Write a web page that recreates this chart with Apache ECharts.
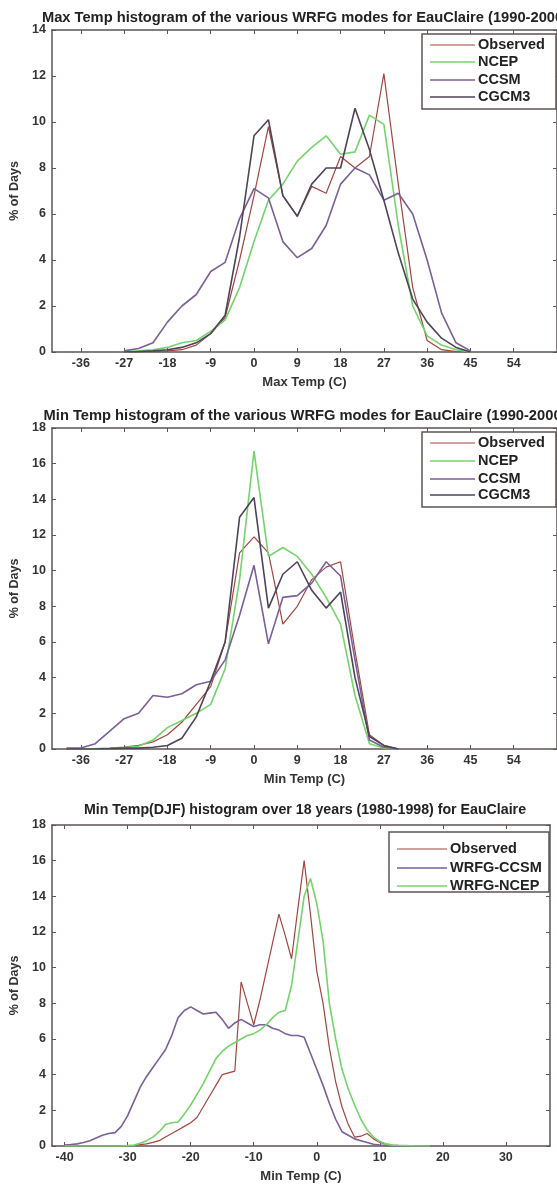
<!DOCTYPE html>
<html><head><meta charset="utf-8">
<script src="https://cdn.jsdelivr.net/npm/echarts@6/dist/echarts.min.js"></script>
<style>html,body{margin:0;padding:0;background:#fff}#c{width:557px;height:1184px}</style>
</head><body><div id="c"></div>
<script>
const titles = [
  "Max Temp histogram of the various WRFG modes for EauClaire (1990-2000)",
  "Min Temp histogram of the various WRFG modes for EauClaire (1990-2000)",
  "Min Temp(DJF) histogram over 18 years (1980-1998) for EauClaire"
];
const xNames = ["Max Temp (C)", "Min Temp (C)", "Min Temp (C)"];
const yName = "% of Days";
const xTicks12 = [-36,-27,-18,-9,0,9,18,27,36,45,54];
const xTicks3 = [-40,-30,-20,-10,0,10,20,30];

// ---------- Chart 1: Max Temp ----------
const temps1 = [-27,-24,-21,-18,-15,-12,-9,-6,-3,0,3,6,9,12,15,18,21,24,27,30,33,36,39,42,45];
const obs1  = [0,0,0.02,0.05,0.1,0.3,0.8,1.5,4.0,6.8,9.8,6.8,5.9,7.2,6.9,8.5,8.0,8.5,12.1,7.3,2.8,0.5,0.1,0.02,0];
const ncep1 = [0,0.05,0.1,0.2,0.4,0.5,0.9,1.4,2.8,4.8,6.6,7.3,8.3,8.9,9.4,8.6,8.7,10.3,9.9,5.5,2.0,0.7,0.3,0.1,0];
const ccsm1 = [0.05,0.15,0.4,1.3,2.0,2.5,3.5,3.9,5.8,7.1,6.7,4.8,4.1,4.5,5.5,7.3,8.0,7.7,6.6,6.9,6.0,4.0,1.7,0.4,0.05];
const cgcm1 = [0,0.02,0.05,0.1,0.2,0.4,0.8,1.6,5.0,9.4,10.1,6.8,5.9,7.3,8.0,8.0,10.6,8.8,6.6,4.3,2.3,1.3,0.6,0.2,0];

// ---------- Chart 2: Min Temp ----------
const temps2 = [-39,-36,-33,-30,-27,-24,-21,-18,-15,-12,-9,-6,-3,0,3,6,9,12,15,18,21,24,27,30];
const obs2  = [0,0,0.02,0.05,0.1,0.2,0.4,0.8,1.5,2.5,3.5,6.0,11.0,11.9,11.0,7.0,8.0,9.5,10.2,10.5,5.5,0.8,0.2,0];
const ncep2 = [0,0,0,0.03,0.08,0.15,0.5,1.2,1.6,2.0,2.5,4.5,9.5,16.7,10.8,11.3,10.8,9.8,8.5,7.0,3.0,0.3,0.05,0];
const ccsm2 = [0.05,0.05,0.3,1.0,1.7,2.0,3.0,2.9,3.1,3.6,3.8,5.0,7.5,10.3,5.9,8.5,8.6,9.3,10.5,9.7,5.0,0.5,0.1,0];
const cgcm2 = [0,0,0,0.02,0.05,0.05,0.1,0.2,0.6,1.8,3.8,6.0,13.0,14.1,7.9,9.8,10.5,8.9,7.9,8.8,4.0,0.7,0.2,0];

// ---------- Chart 3: Min Temp DJF ----------
const temps3 = [-40,-39,-38,-37,-36,-35,-34,-33,-32,-31,-30,-29,-28,-27,-26,-25,-24,-23,-22,-21,-20,-19,-18,-17,-16,-15,-14,-13,-12,-11,-10,-9,-8,-7,-6,-5,-4,-3,-2,-1,0,1,2,3,4,5,6,7,8,9,10,11,12,13,14,15,16,17,18];
const obs3  = [0,0,0,0,0,0,0,0,0,0,0,0.03,0.08,0.12,0.2,0.3,0.5,0.7,0.9,1.1,1.3,1.6,2.2,2.8,3.4,4.0,4.1,4.2,9.2,8.0,6.8,8.2,9.8,11.4,13.0,11.8,10.5,13.3,16.0,13.0,9.8,8.0,5.5,3.6,2.2,1.2,0.5,0.55,0.7,0.4,0.2,0.1,0.05,0.03,0.02,0.01,0,0,0];
const ccsm3 = [0.05,0.08,0.12,0.2,0.3,0.45,0.6,0.7,0.75,1.1,1.7,2.5,3.3,3.9,4.4,4.9,5.4,6.2,7.2,7.6,7.8,7.6,7.4,7.45,7.5,7.1,6.6,6.9,7.1,6.9,6.7,6.8,6.8,6.6,6.5,6.3,6.2,6.2,6.1,5.2,4.3,3.4,2.4,1.5,0.8,0.6,0.4,0.3,0.2,0.1,0.06,0.03,0,0,0,0,0,0,0];
const ncep3 = [0,0,0,0,0,0,0,0,0,0,0.02,0.05,0.15,0.3,0.5,0.8,1.2,1.3,1.35,1.8,2.3,2.9,3.5,4.2,4.9,5.3,5.6,5.8,6.0,6.2,6.3,6.5,6.8,7.2,7.5,7.6,9.0,11.5,14.0,15.0,13.6,11.5,8.0,6.0,4.3,3.2,2.3,1.5,0.9,0.5,0.25,0.12,0.05,0.03,0.02,0.01,0,0,0];

const C_OBS = '#a2463f', C_NCEP = '#74d46c', C_CCSM = '#7b5f98', C_CGCM = '#4e4358';
const AX = '#5d5454';
const FONT = 'Liberation Sans';

const grids = [
  {left: 52, top: 30, width: 506, height: 322},
  {left: 52, top: 428, width: 506, height: 321},
  {left: 52, top: 825, width: 498, height: 322}
];
const xr = [[-42,63],[-42,63],[-42,37]];
const xticks = [xTicks12, xTicks12, xTicks3];
const ymax = [14,18,18];

function pairs(xs, ys){ return xs.map((x,i)=>[x, ys[i]]); }

const xAxis = [], yAxis = [], series = [], title = [], graphic = [];
for (let g=0; g<3; g++){
  const common = {gridIndex: g, type:'value', min: xr[g][0], max: xr[g][1],
    axisLine:{show:true, onZero:false, lineStyle:{color:AX, width:1.5}}, splitLine:{show:false}};
  xAxis.push(Object.assign({}, common, {position:'bottom',
    name: xNames[g], nameLocation:'middle', nameGap: 24,
    nameTextStyle:{color:'#333', fontFamily:FONT, fontWeight:'bold', fontSize:13},
    axisTick:{show:true, inside:true, length:4, lineStyle:{color:AX}, customValues: xticks[g]},
    axisLabel:{color:'#333', fontFamily:FONT, fontWeight:'bold', fontSize:12.5, margin:5, customValues: xticks[g]}}));
  xAxis.push(Object.assign({}, common, {position:'top',
    axisTick:{show:true, inside:true, length:4, lineStyle:{color:AX}, customValues: xticks[g]},
    axisLabel:{show:false}}));
  const yc = {gridIndex:g, type:'value', min:0, max:ymax[g], interval:2,
    axisLine:{show:true, onZero:false, lineStyle:{color:AX, width:1.5}}, splitLine:{show:false}};
  yAxis.push(Object.assign({}, yc, {position:'left',
    name: yName, nameLocation:'middle', nameGap: 31, nameRotate: 90,
    nameTextStyle:{color:'#333', fontFamily:FONT, fontWeight:'bold', fontSize:12.5},
    axisTick:{show:true, inside:true, length:4, lineStyle:{color:AX}},
    axisLabel:{color:'#333', fontFamily:FONT, fontWeight:'bold', fontSize:12.5, margin:6}}));
  yAxis.push(Object.assign({}, yc, {position:'right',
    axisTick:{show:true, inside:true, length:4, lineStyle:{color:AX}},
    axisLabel:{show:false}}));
}

function addLine(g, name, xs, ys, color, w){
  series.push({type:'line', name, xAxisIndex: g*2, yAxisIndex: g*2, data: pairs(xs, ys),
    showSymbol:false, symbol:'none', lineStyle:{color, width:w}, itemStyle:{color}, animation:false});
}
addLine(0,'Observed',temps1,obs1,C_OBS,1.2);
addLine(0,'NCEP',temps1,ncep1,C_NCEP,1.6);
addLine(0,'CCSM',temps1,ccsm1,C_CCSM,1.6);
addLine(0,'CGCM3',temps1,cgcm1,C_CGCM,1.6);
addLine(1,'Observed',temps2,obs2,C_OBS,1.2);
addLine(1,'NCEP',temps2,ncep2,C_NCEP,1.6);
addLine(1,'CCSM',temps2,ccsm2,C_CCSM,1.6);
addLine(1,'CGCM3',temps2,cgcm2,C_CGCM,1.6);
addLine(2,'Observed',temps3,obs3,C_OBS,1.2);
addLine(2,'WRFG-CCSM',temps3,ccsm3,C_CCSM,1.6);
addLine(2,'WRFG-NCEP',temps3,ncep3,C_NCEP,1.6);

const titleY = [5, 403, 798];
const titleSize = [14.7, 14.7, 14.2];
for (let g=0; g<3; g++){
  title.push({text: titles[g], left: 300, top: titleY[g], textAlign:'center',
    textStyle:{color:'#222', fontFamily:FONT, fontWeight:'bold', fontSize:titleSize[g]}});
}

const legendDefs = [
  {names:['Observed','NCEP','CCSM','CGCM3'], colors:[C_OBS,C_NCEP,C_CCSM,C_CGCM], box:[422,34,134,75], rows:[45,62,80,97]},
  {names:['Observed','NCEP','CCSM','CGCM3'], colors:[C_OBS,C_NCEP,C_CCSM,C_CGCM], box:[422,432,134,75], rows:[443,461,479,495]},
  {names:['Observed','WRFG-CCSM','WRFG-NCEP'], colors:[C_OBS,C_CCSM,C_NCEP], box:[389,832,160,60], rows:[849,868,886]}
];
legendDefs.forEach((L)=>{
  const [bx,by,bw,bh] = L.box;
  graphic.push({type:'rect', shape:{x:bx,y:by,width:bw,height:bh}, style:{fill:'#fff', stroke:AX, lineWidth:1.5}, z:100});
  const lineW = (L.names.length===3) ? 50 : 45;
  L.names.forEach((nm,i)=>{
    const cy = L.rows[i];
    graphic.push({type:'line', shape:{x1:bx+8, y1:cy, x2:bx+8+lineW, y2:cy}, style:{stroke:L.colors[i], lineWidth: i===0?1.2:1.6}, z:101});
    graphic.push({type:'text', x:bx+11+lineW, y:cy, style:{text:nm, fill:'#222', font:'bold 14.5px '+FONT, textVerticalAlign:'middle'}, z:101});
  });
});

const chart = echarts.init(document.getElementById('c'), null, {renderer:'canvas'});
chart.setOption({animation:false, backgroundColor:'#fff', title, grid: grids, xAxis, yAxis, series, graphic});
</script></body></html>
